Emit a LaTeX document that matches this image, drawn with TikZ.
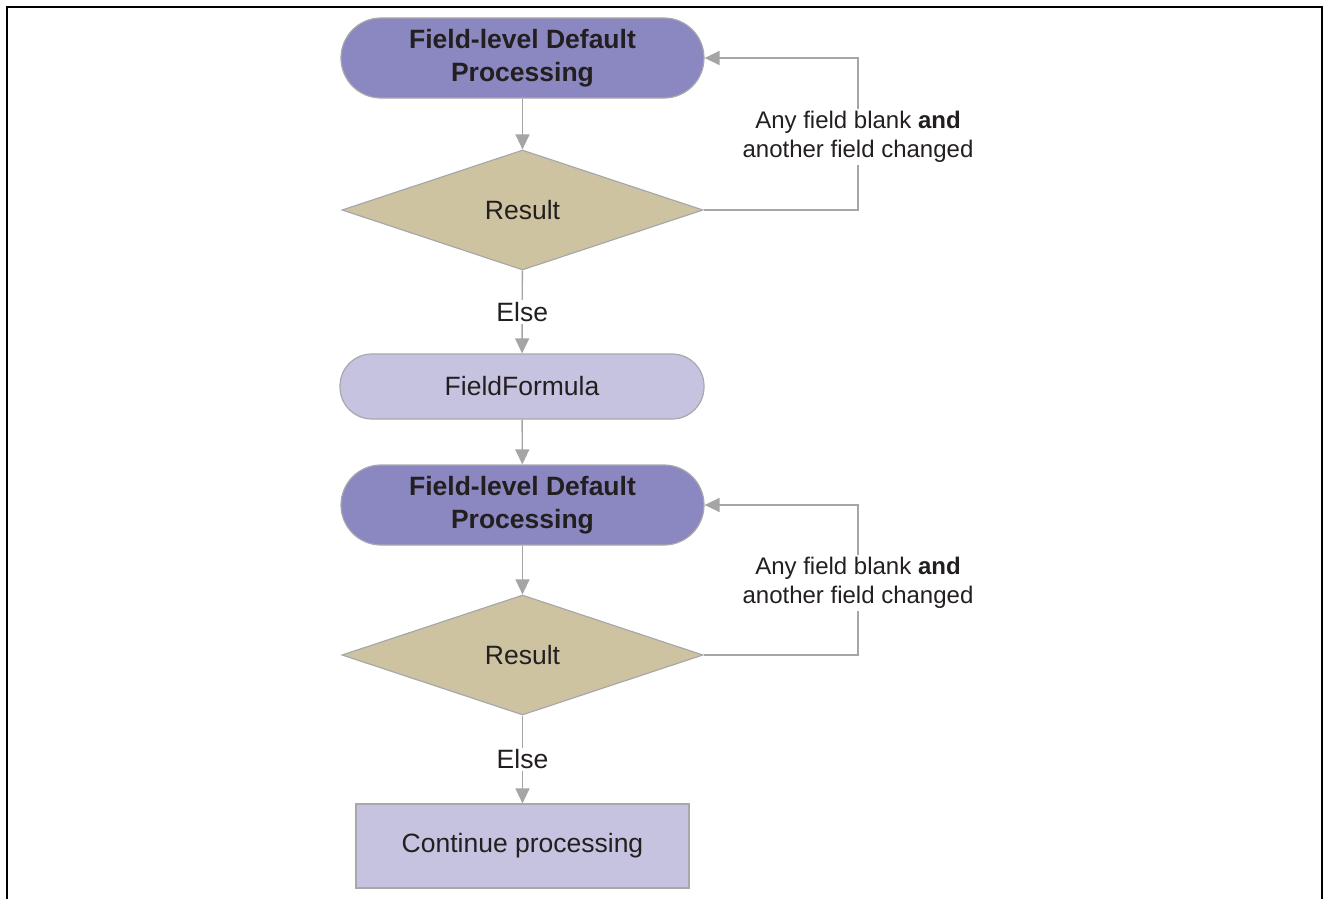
\documentclass[tikz,border=0pt]{standalone}
\usepackage{fontspec}
\setmainfont{Liberation Sans}
\usetikzlibrary{shapes.geometric,arrows.meta}
\definecolor{procdark}{RGB}{139,135,192}
\definecolor{proclight}{RGB}{198,195,225}
\definecolor{decfill}{RGB}{206,195,160}
\definecolor{edgegray}{RGB}{168,168,172}
\definecolor{linegray}{RGB}{165,165,168}
\definecolor{ink}{RGB}{35,31,32}
\begin{document}
\begin{tikzpicture}[x=1pt,y=-1pt,
  every node/.style={font=\fontsize{26.5}{32}\selectfont, text=ink},
  stadium/.style={draw=edgegray, line width=1.2pt, rounded corners=#1, inner sep=0pt, align=center},
  darkproc/.style={stadium=40pt, fill=procdark, minimum width=363pt, minimum height=80pt, font=\fontsize{26.5}{33}\selectfont\bfseries},
  lightproc/.style={stadium=32pt, fill=proclight, minimum width=364pt, minimum height=65pt},
  decision/.style={diamond, draw=edgegray, line width=1.2pt, fill=decfill, inner sep=0pt, minimum width=361pt, minimum height=120pt},
  endbox/.style={draw=edgegray, line width=1.2pt, fill=proclight, inner sep=0pt, minimum width=333pt, minimum height=84pt},
  arr/.style={draw=linegray, line width=1.4pt, -{Triangle[length=15pt,width=14pt]}},
  cut/.style={fill=white, inner sep=2pt, align=center},
  loopnote/.style={cut, font=\fontsize{24}{29}\selectfont, yshift=-3pt}
]
\useasboundingbox (0,0) rectangle (1328,899);
% outer frame, open at the bottom
\draw[line width=2.6pt] (7,899) -- (7,7) -- (1322,7) -- (1322,899);

% first default pass
\node[darkproc] (n1) at (522.5,58) {Field-level Default\\Processing};
\node[decision] (d1) at (522.5,210) {Result};
\node[lightproc] (ff) at (522,386.5) {FieldFormula};

% second default pass
\node[darkproc] (n2) at (522.5,505) {Field-level Default\\Processing};
\node[decision] (d2) at (522.5,655) {Result};
\node[endbox] (cont) at (522.5,846) {Continue processing};

% corners of the feedback loops
\coordinate (l1b) at (858,210);
\coordinate (l1t) at (858,58);
\coordinate (l2b) at (858,655);
\coordinate (l2t) at (858,505);

\draw[arr] (n1) -- (d1);
\draw[arr] (d1) -- node[cut] {Else} (ff);
\draw[arr] (ff) -- (n2);
\draw[arr] (n2) -- (d2);
\draw[arr] (d2) -- node[cut] {Else} (cont);

\draw[arr] (d1.east) -- (l1b) -- node[loopnote] {Any field blank \textbf{and}\\another field changed} (l1t) -- (n1.east);
\draw[arr] (d2.east) -- (l2b) -- node[loopnote] {Any field blank \textbf{and}\\another field changed} (l2t) -- (n2.east);
\end{tikzpicture}
\end{document}
